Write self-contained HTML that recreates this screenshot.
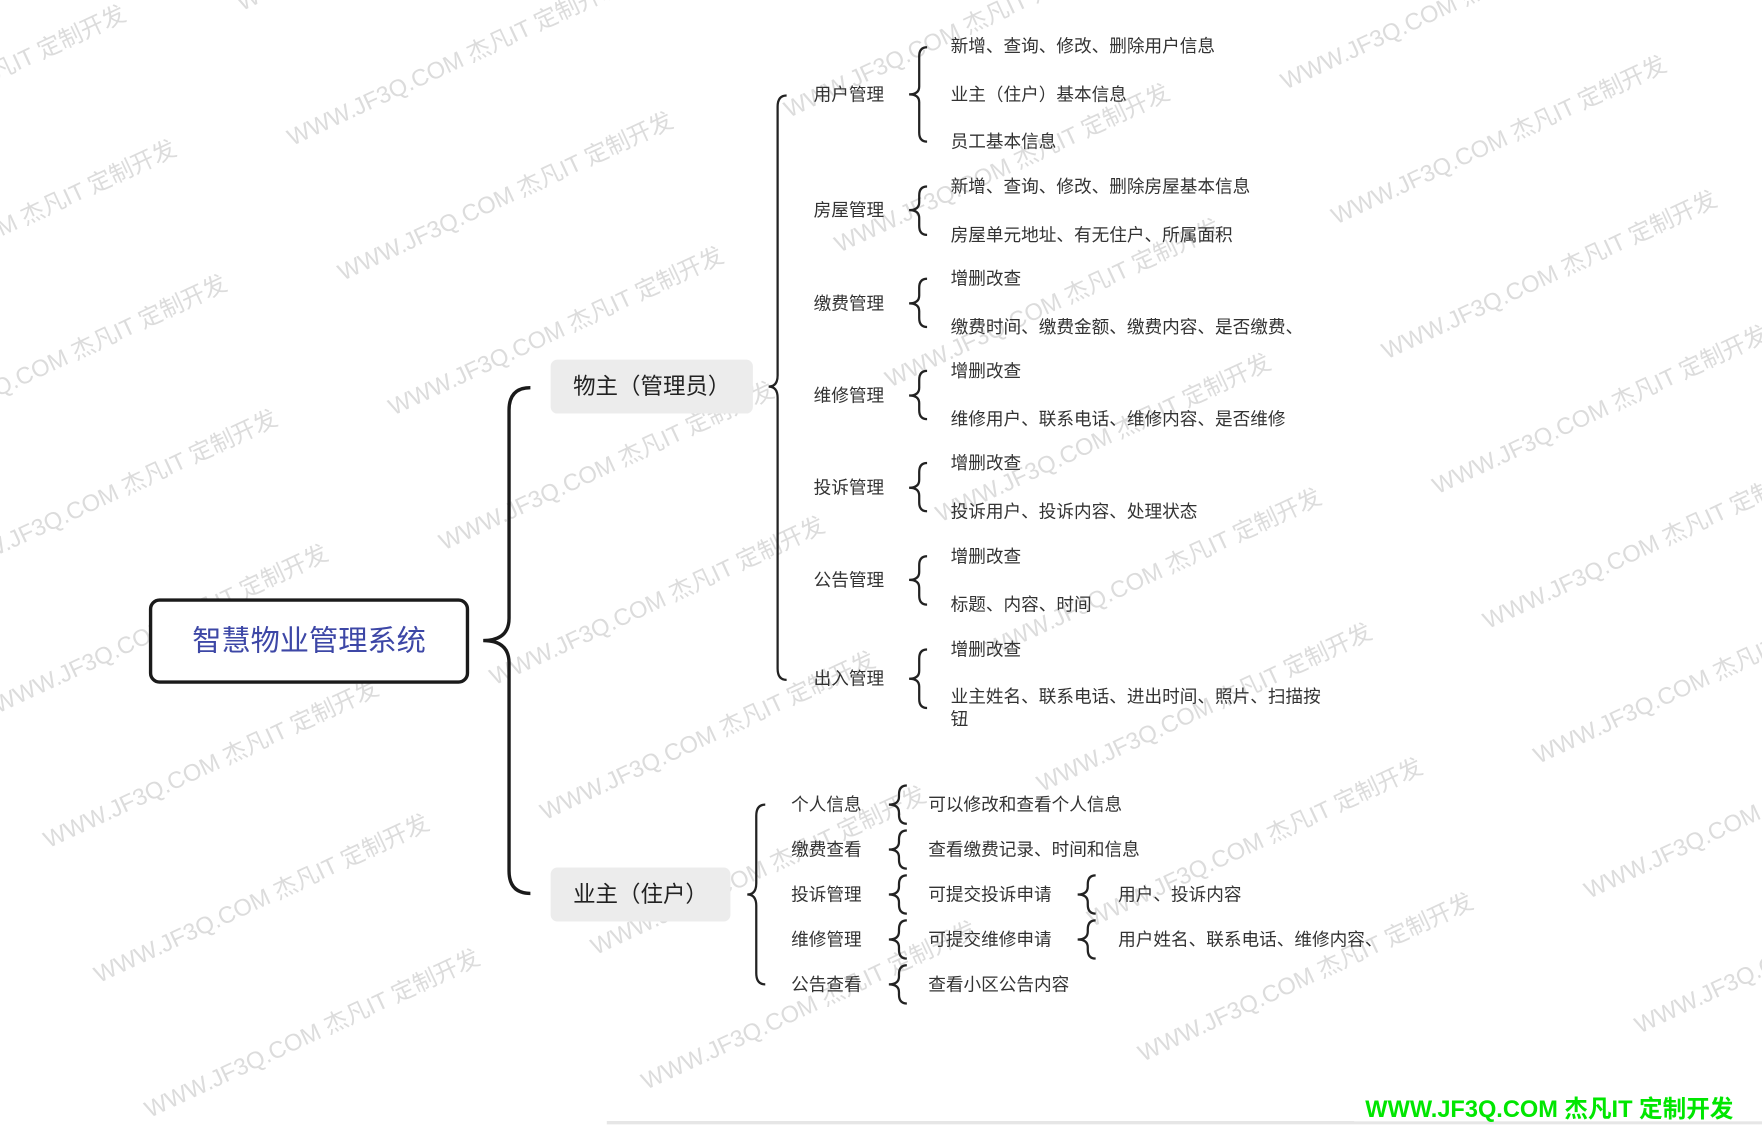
<!DOCTYPE html>
<html><head><meta charset="utf-8"><style>
html,body{margin:0;padding:0;background:#fff;width:1762px;height:1126px;overflow:hidden}
svg{display:block;overflow:hidden}
text{font-family:"Liberation Sans","Noto Sans CJK SC",sans-serif}
.wm text{fill:#dcdcdc;font-size:21px}
.t{font-size:15.7px;fill:#333;dominant-baseline:central}
.b{fill:none;stroke:#222;stroke-width:2}
</style></head><body>
<svg width="1762" height="1126" viewBox="0 0 1568 1002" preserveAspectRatio="none">
<g class="wm">
<text transform="translate(-227 35) rotate(-25)">WWW.JF3Q.COM 杰凡IT   定制开发</text>
<text transform="translate(215 10) rotate(-25)">WWW.JF3Q.COM 杰凡IT   定制开发</text>
<text transform="translate(657 -15) rotate(-25)">WWW.JF3Q.COM 杰凡IT   定制开发</text>
<text transform="translate(1099 -40) rotate(-25)">WWW.JF3Q.COM 杰凡IT   定制开发</text>
<text transform="translate(-182 155) rotate(-25)">WWW.JF3Q.COM 杰凡IT   定制开发</text>
<text transform="translate(260 130) rotate(-25)">WWW.JF3Q.COM 杰凡IT   定制开发</text>
<text transform="translate(702 105) rotate(-25)">WWW.JF3Q.COM 杰凡IT   定制开发</text>
<text transform="translate(1144 80) rotate(-25)">WWW.JF3Q.COM 杰凡IT   定制开发</text>
<text transform="translate(-137 275) rotate(-25)">WWW.JF3Q.COM 杰凡IT   定制开发</text>
<text transform="translate(305 250) rotate(-25)">WWW.JF3Q.COM 杰凡IT   定制开发</text>
<text transform="translate(747 225) rotate(-25)">WWW.JF3Q.COM 杰凡IT   定制开发</text>
<text transform="translate(1189 200) rotate(-25)">WWW.JF3Q.COM 杰凡IT   定制开发</text>
<text transform="translate(-92 395) rotate(-25)">WWW.JF3Q.COM 杰凡IT   定制开发</text>
<text transform="translate(350 370) rotate(-25)">WWW.JF3Q.COM 杰凡IT   定制开发</text>
<text transform="translate(792 345) rotate(-25)">WWW.JF3Q.COM 杰凡IT   定制开发</text>
<text transform="translate(1234 320) rotate(-25)">WWW.JF3Q.COM 杰凡IT   定制开发</text>
<text transform="translate(-47 515) rotate(-25)">WWW.JF3Q.COM 杰凡IT   定制开发</text>
<text transform="translate(395 490) rotate(-25)">WWW.JF3Q.COM 杰凡IT   定制开发</text>
<text transform="translate(837 465) rotate(-25)">WWW.JF3Q.COM 杰凡IT   定制开发</text>
<text transform="translate(1279 440) rotate(-25)">WWW.JF3Q.COM 杰凡IT   定制开发</text>
<text transform="translate(-2 635) rotate(-25)">WWW.JF3Q.COM 杰凡IT   定制开发</text>
<text transform="translate(440 610) rotate(-25)">WWW.JF3Q.COM 杰凡IT   定制开发</text>
<text transform="translate(882 585) rotate(-25)">WWW.JF3Q.COM 杰凡IT   定制开发</text>
<text transform="translate(1324 560) rotate(-25)">WWW.JF3Q.COM 杰凡IT   定制开发</text>
<text transform="translate(43 755) rotate(-25)">WWW.JF3Q.COM 杰凡IT   定制开发</text>
<text transform="translate(485 730) rotate(-25)">WWW.JF3Q.COM 杰凡IT   定制开发</text>
<text transform="translate(927 705) rotate(-25)">WWW.JF3Q.COM 杰凡IT   定制开发</text>
<text transform="translate(1369 680) rotate(-25)">WWW.JF3Q.COM 杰凡IT   定制开发</text>
<text transform="translate(88 875) rotate(-25)">WWW.JF3Q.COM 杰凡IT   定制开发</text>
<text transform="translate(530 850) rotate(-25)">WWW.JF3Q.COM 杰凡IT   定制开发</text>
<text transform="translate(972 825) rotate(-25)">WWW.JF3Q.COM 杰凡IT   定制开发</text>
<text transform="translate(1414 800) rotate(-25)">WWW.JF3Q.COM 杰凡IT   定制开发</text>
<text transform="translate(133 995) rotate(-25)">WWW.JF3Q.COM 杰凡IT   定制开发</text>
<text transform="translate(575 970) rotate(-25)">WWW.JF3Q.COM 杰凡IT   定制开发</text>
<text transform="translate(1017 945) rotate(-25)">WWW.JF3Q.COM 杰凡IT   定制开发</text>
<text transform="translate(1459 920) rotate(-25)">WWW.JF3Q.COM 杰凡IT   定制开发</text>
</g>
<rect x="134" y="534" width="282" height="73" rx="8" fill="#fff" stroke="#1a1a1a" stroke-width="3"/>
<text x="275" y="571" text-anchor="middle" dominant-baseline="central" font-size="26" fill="#3d47a6">智慧物业管理系统</text>
<path d="M472,345 Q453,345 453,365 L453,550 Q453,570 430,570 Q453,570 453,590 L453,775 Q453,795 472,795" fill="none" stroke="#1a1a1a" stroke-width="3"/>
<rect x="490" y="320" width="180" height="48" rx="6" fill="#ececec"/>
<text x="510" y="344" font-size="20" fill="#222" dominant-baseline="central">物主（管理员）</text>
<rect x="490" y="772" width="160" height="48" rx="6" fill="#ececec"/>
<text x="510" y="796" font-size="20" fill="#222" dominant-baseline="central">业主（住户）</text>
<path class="b" d="M700,85 Q692,85 692,95 L692,334 Q692,344 684,344 Q692,344 692,354 L692,595 Q692,605 700,605"/>
<path class="b" d="M681,716 Q673,716 673,726 L673,786 Q673,796 665,796 Q673,796 673,806 L673,866 Q673,876 681,876"/>

<text class="t" x="724" y="84">用户管理</text>
<path class="b" d="M825,42 Q818,42 818,50 L818,77 Q818,84 809,84 Q818,84 818,91 L818,118 Q818,126 825,126"/>
<text class="t" x="846" y="41">新增、查询、修改、删除用户信息</text>
<text class="t" x="846" y="84">业主（住户）基本信息</text>
<text class="t" x="846" y="126">员工基本信息</text>

<text class="t" x="724" y="187">房屋管理</text>
<path class="b" d="M825,166 Q818,166 818,174 L818,180 Q818,187 809,187 Q818,187 818,194 L818,201 Q818,209 825,209"/>
<text class="t" x="846" y="166">新增、查询、修改、删除房屋基本信息</text>
<text class="t" x="846" y="209">房屋单元地址、有无住户、所属面积</text>

<text class="t" x="724" y="270">缴费管理</text>
<path class="b" d="M825,248 Q818,248 818,256 L818,263 Q818,270 809,270 Q818,270 818,277 L818,283 Q818,291 825,291"/>
<text class="t" x="846" y="248">增删改查</text>
<text class="t" x="846" y="291">缴费时间、缴费金额、缴费内容、是否缴费、</text>

<text class="t" x="724" y="352">维修管理</text>
<path class="b" d="M825,330 Q818,330 818,338 L818,345 Q818,352 809,352 Q818,352 818,359 L818,365 Q818,373 825,373"/>
<text class="t" x="846" y="330">增删改查</text>
<text class="t" x="846" y="373">维修用户、联系电话、维修内容、是否维修</text>

<text class="t" x="724" y="434">投诉管理</text>
<path class="b" d="M825,412 Q818,412 818,420 L818,427 Q818,434 809,434 Q818,434 818,441 L818,447 Q818,455 825,455"/>
<text class="t" x="846" y="412">增删改查</text>
<text class="t" x="846" y="455">投诉用户、投诉内容、处理状态</text>

<text class="t" x="724" y="516">公告管理</text>
<path class="b" d="M825,495 Q818,495 818,503 L818,509 Q818,516 809,516 Q818,516 818,523 L818,530 Q818,538 825,538"/>
<text class="t" x="846" y="495">增删改查</text>
<text class="t" x="846" y="538">标题、内容、时间</text>

<text class="t" x="724" y="604">出入管理</text>
<path class="b" d="M825,578 Q818,578 818,586 L818,597 Q818,604 809,604 Q818,604 818,611 L818,622 Q818,630 825,630"/>
<text class="t" x="846" y="578">增删改查</text>
<text class="t" x="846" y="620">业主姓名、联系电话、进出时间、照片、扫描按</text>
<text class="t" x="846" y="640">钮</text>

<text class="t" x="704" y="716">个人信息</text>
<path class="b" d="M807,699 Q800,699 800,707 L800,709 Q800,716 791,716 Q800,716 800,723 L800,725 Q800,733 807,733"/>
<text class="t" x="826" y="716">可以修改和查看个人信息</text>

<text class="t" x="704" y="756">缴费查看</text>
<path class="b" d="M807,739 Q800,739 800,747 L800,749 Q800,756 791,756 Q800,756 800,763 L800,765 Q800,773 807,773"/>
<text class="t" x="826" y="756">查看缴费记录、时间和信息</text>

<text class="t" x="704" y="796">投诉管理</text>
<path class="b" d="M807,779 Q800,779 800,787 L800,789 Q800,796 791,796 Q800,796 800,803 L800,805 Q800,813 807,813"/>
<text class="t" x="826" y="796">可提交投诉申请</text>
<path class="b" d="M975,779 Q968,779 968,787 L968,789 Q968,796 959,796 Q968,796 968,803 L968,805 Q968,813 975,813"/>
<text class="t" x="995" y="796">用户、投诉内容</text>

<text class="t" x="704" y="836">维修管理</text>
<path class="b" d="M807,819 Q800,819 800,827 L800,829 Q800,836 791,836 Q800,836 800,843 L800,845 Q800,853 807,853"/>
<text class="t" x="826" y="836">可提交维修申请</text>
<path class="b" d="M975,819 Q968,819 968,827 L968,829 Q968,836 959,836 Q968,836 968,843 L968,845 Q968,853 975,853"/>
<text class="t" x="995" y="836">用户姓名、联系电话、维修内容、</text>

<text class="t" x="704" y="876">公告查看</text>
<path class="b" d="M807,859 Q800,859 800,867 L800,869 Q800,876 791,876 Q800,876 800,883 L800,885 Q800,893 807,893"/>
<text class="t" x="826" y="876">查看小区公告内容</text>

<line x1="540" y1="999" x2="1568" y2="999" stroke="#e6e6e6" stroke-width="3"/>
<rect x="1205" y="970" width="363" height="28" fill="#fff" opacity="0.6"/>
<text x="1215" y="994" font-size="21" font-weight="bold" fill="#00e600">WWW.JF3Q.COM 杰凡IT   定制开发</text>
</svg>
</body></html>
